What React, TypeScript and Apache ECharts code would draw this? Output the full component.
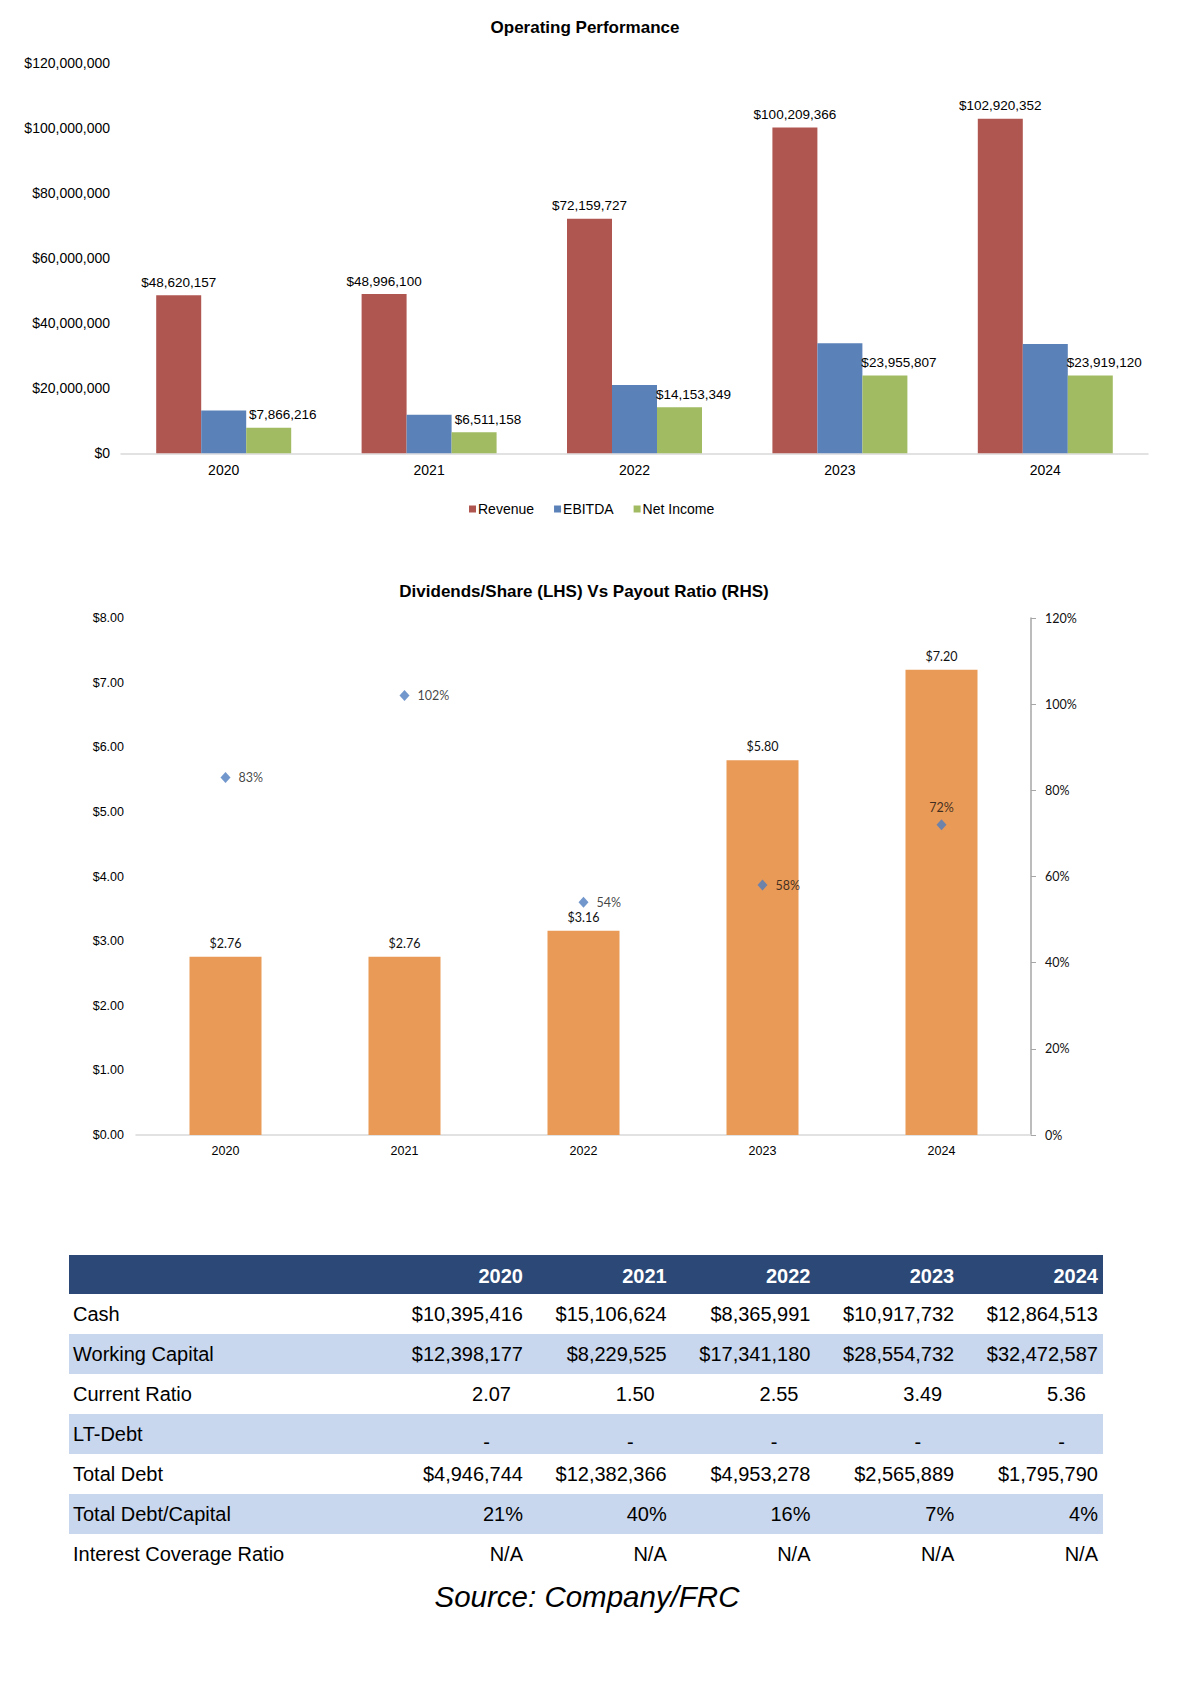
import React, { useEffect, useRef } from "react";
import * as echarts from "echarts";

const years = ["2020", "2021", "2022", "2023", "2024"];
const revenue = [48620157, 48996100, 72159727, 100209366, 102920352];
const ebitda = [13200000, 11900000, 21000000, 33900000, 33600000];
const netIncome = [7866216, 6511158, 14153349, 23955807, 23919120];
const dividendsPerShare = [2.76, 2.76, 3.16, 5.8, 7.2];
const payoutRatio = [83, 102, 54, 58, 72];

const tableRows = [
  "Cash",
  "Working Capital",
  "Current Ratio",
  "LT-Debt",
  "Total Debt",
  "Total Debt/Capital",
  "Interest Coverage Ratio",
];
const cash = [10395416, 15106624, 8365991, 10917732, 12864513];
const workingCapital = [12398177, 8229525, 17341180, 28554732, 32472587];
const currentRatio = [2.07, 1.5, 2.55, 3.49, 5.36];
const ltDebt = [0, 0, 0, 0, 0];
const totalDebt = [4946744, 12382366, 4953278, 2565889, 1795790];
const debtToCapital = [21, 40, 16, 7, 4];
const interestCoverage = ["N/A", "N/A", "N/A", "N/A", "N/A"];

const ARIAL = "'Liberation Sans', Arial, sans-serif";
const CALI = "Lato, 'Liberation Sans', sans-serif";

const money = (v: number) => "$" + Math.round(v).toLocaleString("en-US");

export default function App() {
  const ref = useRef<HTMLDivElement>(null);
  useEffect(() => {
    document.body.style.margin = "0";
    if (!ref.current) return;
    const chart = echarts.init(ref.current, undefined, { renderer: "svg" });

    const graphics: any[] = [];
    // titles
    graphics.push({
      type: "text",
      x: 585,
      y: 27,
      style: { text: "Operating Performance", fontFamily: ARIAL, fontSize: 17, fontWeight: "bold", fill: "#000", align: "center", verticalAlign: "middle" },
    });
    graphics.push({
      type: "text",
      x: 584,
      y: 591,
      style: { text: "Dividends/Share (LHS) Vs Payout Ratio (RHS)", fontFamily: ARIAL, fontSize: 17, fontWeight: "bold", fill: "#000", align: "center", verticalAlign: "middle" },
    });

    // table
    const tLeft = 69;
    const tWidth = 1034;
    const headTop = 1255;
    const headH = 39;
    const rowH = 40;
    const colRight = (i: number) => 523 + i * 143.75;
    graphics.push({ type: "rect", shape: { x: tLeft, y: headTop, width: tWidth, height: headH }, style: { fill: "#2B4877" } });
    years.forEach((y, i) => {
      graphics.push({
        type: "text",
        x: colRight(i),
        y: headTop + headH / 2 + 1,
        style: { text: y, fontFamily: ARIAL, fontSize: 20, fontWeight: "bold", fill: "#fff", align: "right", verticalAlign: "middle" },
      });
    });
    const rowValues: string[][] = [
      cash.map(money),
      workingCapital.map(money),
      currentRatio.map((v) => v.toFixed(2)),
      ltDebt.map((v) => (v === 0 ? "-" : money(v))),
      totalDebt.map(money),
      debtToCapital.map((v) => v + "%"),
      interestCoverage,
    ];
    const rightPad = [0, 0, 12, 33, 0, 0, 0];
    const vShift = [0, 0, 0, 8, 0, 0, 0];
    tableRows.forEach((name, r) => {
      const top = headTop + headH + r * rowH;
      if (r % 2 === 1) {
        graphics.push({ type: "rect", shape: { x: tLeft, y: top, width: tWidth, height: rowH }, style: { fill: "#C9D7EE" } });
      }
      graphics.push({
        type: "text",
        x: 73,
        y: top + rowH / 2,
        style: { text: name, fontFamily: ARIAL, fontSize: 20, fill: "#000", align: "left", verticalAlign: "middle" },
      });
      rowValues[r].forEach((v, i) => {
        graphics.push({
          type: "text",
          x: colRight(i) - rightPad[r],
          y: top + rowH / 2 + vShift[r],
          style: { text: v, fontFamily: ARIAL, fontSize: 20, fill: "#000", align: "right", verticalAlign: "middle" },
        });
      });
    });
    graphics.push({
      type: "text",
      x: 587,
      y: 1596,
      style: { text: "Source: Company/FRC", fontFamily: ARIAL, fontSize: 29.5, fontStyle: "italic", fill: "#000", align: "center", verticalAlign: "middle" },
    });

    const option: any = {
      animation: false,
      backgroundColor: "#fff",
      textStyle: { fontFamily: ARIAL },
      legend: {
        data: ["Revenue", "EBITDA", "Net Income"],
        left: 464,
        top: 497,
        icon: "rect",
        itemWidth: 7,
        itemHeight: 7,
        itemGap: 20,
        textStyle: { fontFamily: ARIAL, fontSize: 14, color: "#000", padding: [0, 0, 0, -3] },
      },
      grid: [
        { left: 121, top: 63.3, width: 1027, height: 390 },
        { left: 136, top: 618, width: 895, height: 517 },
      ],
      xAxis: [
        {
          type: "category",
          gridIndex: 0,
          data: years,
          axisLine: { lineStyle: { color: "#D9D9D9", width: 1.5 } },
          axisTick: { show: false },
          axisLabel: { fontFamily: ARIAL, fontSize: 14, color: "#000", margin: 10 },
        },
        {
          type: "category",
          gridIndex: 1,
          data: years,
          axisLine: { lineStyle: { color: "#D9D9D9", width: 1.5 } },
          axisTick: { show: false },
          axisLabel: { fontFamily: ARIAL, fontSize: 12.5, color: "#000", margin: 9 },
        },
      ],
      yAxis: [
        {
          type: "value",
          gridIndex: 0,
          min: 0,
          max: 120000000,
          interval: 20000000,
          axisLine: { show: false },
          axisTick: { show: false },
          splitLine: { show: false },
          axisLabel: { fontFamily: ARIAL, fontSize: 14, color: "#000", margin: 11, formatter: (v: number) => money(v) },
        },
        {
          type: "value",
          gridIndex: 1,
          min: 0,
          max: 8,
          interval: 1,
          axisLine: { show: false },
          axisTick: { show: false },
          splitLine: { show: false },
          axisLabel: { fontFamily: ARIAL, fontSize: 12.5, color: "#000", margin: 12, formatter: (v: number) => "$" + v.toFixed(2) },
        },
        {
          type: "value",
          gridIndex: 1,
          position: "right",
          min: 0,
          max: 120,
          interval: 20,
          axisLine: { show: true, lineStyle: { color: "#A6A6A6", width: 1.5 } },
          axisTick: { show: true, inside: false, length: 5, lineStyle: { color: "#A6A6A6" } },
          splitLine: { show: false },
          axisLabel: { fontFamily: CALI, fontSize: 12.5, color: "#111", margin: 14, formatter: (v: number) => v + "%" },
        },
      ],
      series: [
        {
          name: "Revenue",
          type: "bar",
          xAxisIndex: 0,
          yAxisIndex: 0,
          data: revenue,
          barWidth: 45,
          barGap: "0%",
          itemStyle: { color: "#B05650" },
          label: { show: true, position: "top", distance: 6, fontFamily: ARIAL, fontSize: 13.5, color: "#000", formatter: (p: any) => money(p.value) },
        },
        {
          name: "EBITDA",
          type: "bar",
          xAxisIndex: 0,
          yAxisIndex: 0,
          data: ebitda,
          barWidth: 45,
          barGap: "0%",
          itemStyle: { color: "#5A81B8" },
        },
        {
          name: "Net Income",
          type: "bar",
          xAxisIndex: 0,
          yAxisIndex: 0,
          data: netIncome,
          barWidth: 45,
          barGap: "0%",
          itemStyle: { color: "#A1BB63" },
          label: { show: true, position: "top", distance: 6, offset: [14, 0], fontFamily: ARIAL, fontSize: 13.5, color: "#000", formatter: (p: any) => money(p.value) },
        },
        {
          name: "Dividends/Share",
          type: "bar",
          xAxisIndex: 1,
          yAxisIndex: 1,
          data: dividendsPerShare,
          barWidth: 72,
          itemStyle: { color: "#EA9A57" },
          label: { show: true, position: "top", distance: 7, fontFamily: CALI, fontSize: 12.5, color: "#111", formatter: (p: any) => "$" + p.value.toFixed(2) },
        },
        {
          name: "Payout Ratio",
          type: "scatter",
          xAxisIndex: 1,
          yAxisIndex: 2,
          symbol: "diamond",
          symbolSize: [10, 11],
          itemStyle: { color: "#4F7DBF" },
          data: payoutRatio.map((v, i) =>
            i === payoutRatio.length - 1 ? { value: v, label: { position: "top", distance: 5 } } : v
          ),
          label: { show: true, position: "right", distance: 8, fontFamily: CALI, fontSize: 12.5, color: "#111", formatter: (p: any) => p.value + "%" },
          z: 5,
        },
      ],
      graphic: graphics,
    };
    chart.setOption(option);
    return () => chart.dispose();
  }, []);
  return <div ref={ref} style={{ width: 1188, height: 1700 }} />;
}
